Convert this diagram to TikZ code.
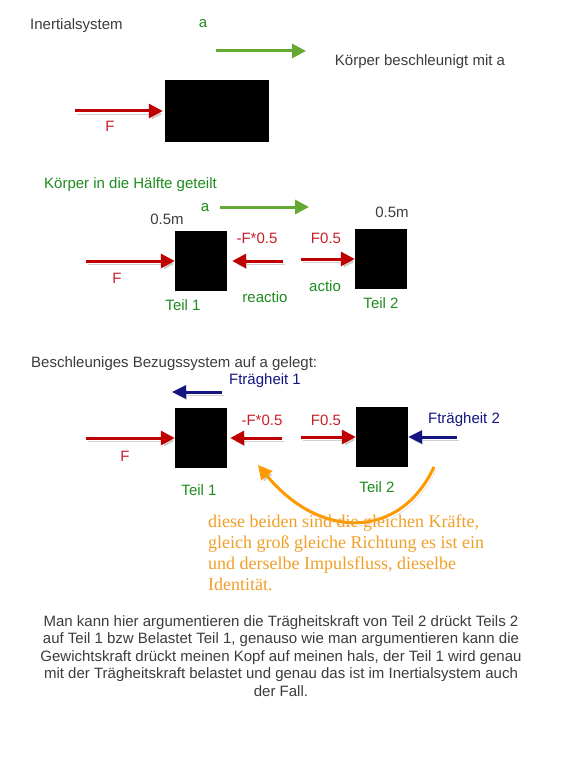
\documentclass[tikz,border=0pt]{standalone}
\usepackage{fontspec}
\setmainfont{Liberation Sans}
\newfontfamily\notefont{Liberation Serif}
\usetikzlibrary{arrows.meta, positioning}
\definecolor{textGray}{RGB}{60,60,60}
\definecolor{forceRed}{RGB}{192,0,0}
\definecolor{labelRed}{RGB}{200,30,40}
\definecolor{accelGreen}{RGB}{100,170,50}
\definecolor{labelGreen}{RGB}{30,140,30}
\definecolor{inertiaBlue}{RGB}{20,20,130}
\definecolor{noteOrange}{RGB}{255,153,0}
\definecolor{noteText}{RGB}{240,160,40}

\begin{document}
\begin{tikzpicture}[
        x=1pt, y=-1pt,
        block/.style={rectangle, fill=black, inner sep=0pt},
        txt/.style={font=\fontsize{15}{18}\selectfont, inner sep=0pt},
        shadowed/.style={preaction={draw=black!40, opacity=0.45, transform canvas={shift={(2pt,-3pt)}}}},
        force/.style={-{Triangle[length=14pt, width=14pt]}, line width=3pt, forceRed, shadowed},
        accel/.style={-{Triangle[length=14pt, width=14pt]}, line width=3pt, accelGreen},
        inertia/.style={-{Triangle[length=14pt, width=13pt]}, line width=3pt, inertiaBlue, shadowed},
        note/.style={-{Triangle[length=14pt, width=14pt]}, line width=3pt, noteOrange, shadowed}
    ]
        \fill[white] (0,0) rectangle (568,770);
        \useasboundingbox (0,0) rectangle (568,770);

        % Inertial system
        \node[txt, textGray, anchor=west] (inertial) at (30,26) {Inertialsystem};
        \node[txt, labelGreen] (accA) at (203,24) {a};
        \coordinate (accAstart) at (216,51);
        \coordinate (accAend) at (306,51);
        \draw[accel] (accAstart) -- (accAend);
        \node[txt, textGray] (accText) at (420,62) {Körper beschleunigt mit a};
        \node[block, minimum width=104pt, minimum height=62pt] (body) at (217,111) {};
        \coordinate (FAstart) at (75,111);
        \draw[force, shorten >=2pt] (FAstart) -- (body.west);
        \node[txt, labelRed] (FA) at (110,126) {F};

        % Body split in half
        \node[txt, labelGreen, anchor=west] (split) at (44,185) {Körper in die Hälfte geteilt};
        \node[txt, labelGreen] (accB) at (205,208) {a};
        \coordinate (accBstart) at (220,207);
        \coordinate (accBend) at (309,207);
        \draw[accel] (accBstart) -- (accBend);
        \node[block, minimum width=52pt, minimum height=60pt] (partA) at (201,261) {};
        \node[block, minimum width=52pt, minimum height=60pt] (partB) at (381,259) {};
        \node[txt, textGray] (massA) at (167,219) {0.5m};
        \node[txt, textGray, above=11pt of partB, xshift=11pt] (massB) {0.5m};
        \coordinate (FBstart) at (86,261);
        \draw[force] (FBstart) -- (partA.west);
        \node[txt, labelRed] (FB) at (117,278) {F};
        \coordinate (reactBstart) at (283,261);
        \draw[force, shorten >=5pt] (reactBstart) -- (partA.east);
        \node[txt, labelRed] (reactBF) at (257,238) {-F*0.5};
        \coordinate (actBstart) at (301,259);
        \draw[force] (actBstart) -- (partB.west);
        \node[txt, labelRed] (actBF) at (326,238) {F0.5};
        \node[txt, labelGreen] (actio) at (325,286) {actio};
        \node[txt, labelGreen] (reactio) at (265,297) {reactio};
        \node[txt, labelGreen] (partAname) at (183,305) {Teil 1};
        \node[txt, labelGreen, below=8pt of partB] (partBname) {Teil 2};

        % Accelerated frame of reference
        \node[txt, textGray, anchor=west] (frame) at (31,364) {Beschleuniges Bezugssystem auf a gelegt:};
        \node[txt, inertiaBlue] (inertA) at (265,381) {Fträgheit 1};
        \coordinate (inertAstart) at (222,392);
        \coordinate (inertAend) at (172,392);
        \draw[inertia] (inertAstart) -- (inertAend);
        \node[block, minimum width=52pt, minimum height=60pt] (partC) at (201,438) {};
        \node[block, minimum width=52pt, minimum height=60pt] (partD) at (382,437) {};
        \coordinate (FCstart) at (86,438);
        \draw[force] (FCstart) -- (partC.west);
        \node[txt, labelRed] (FC) at (125,456) {F};
        \coordinate (reactCstart) at (282,438);
        \draw[force, shorten >=3pt] (reactCstart) -- (partC.east);
        \node[txt, labelRed] (reactCF) at (262,420) {-F*0.5};
        \coordinate (actCstart) at (301,437);
        \draw[force] (actCstart) -- (partD.west);
        \node[txt, labelRed] (actCF) at (326,420) {F0.5};
        \node[txt, inertiaBlue] (inertB) at (464,420) {Fträgheit 2};
        \coordinate (inertBstart) at (457,437);
        \draw[inertia] (inertBstart) -- (partD.east);
        \node[txt, labelGreen] (partCname) at (199,490) {Teil 1};
        \node[txt, labelGreen] (partDname) at (377,487) {Teil 2};

        % Same forces note
        \coordinate (noteStart) at (434,467);
        \coordinate (noteEnd) at (258,465);
        \draw[note] (noteStart) .. controls (400,540) and (320,540) .. (noteEnd);
        \node[anchor=north west, align=left, inner sep=0pt, noteText, font=\notefont\fontsize{18}{21}\selectfont] (noteText) at (208,515) {diese beiden sind die gleichen Kräfte,\\gleich groß gleiche Richtung es ist ein\\und derselbe Impulsfluss, dieselbe\\Identität.};

        % Explanation
        \node[txt, textGray, anchor=north, align=center, font=\fontsize{15}{17.5}\selectfont] (explain) at (281,615) {Man kann hier argumentieren die Trägheitskraft von Teil 2 drückt Teils 2\\auf Teil 1 bzw Belastet Teil 1, genauso wie man argumentieren kann die\\Gewichtskraft drückt meinen Kopf auf meinen hals, der Teil 1 wird genau\\mit der Trägheitskraft belastet und genau das ist im Inertialsystem auch\\der Fall.};
    \end{tikzpicture}
\end{document}
